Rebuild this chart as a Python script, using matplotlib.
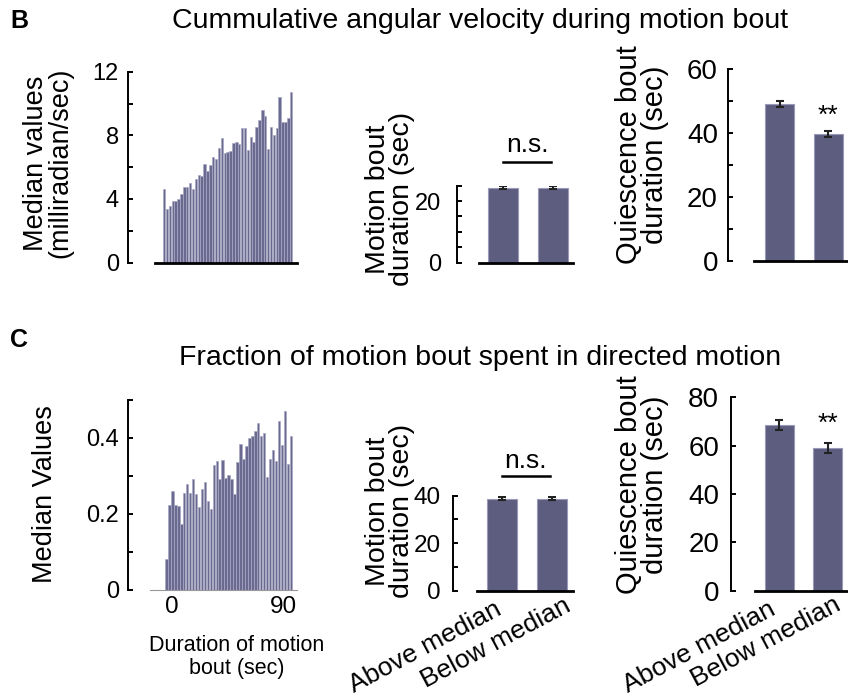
import numpy as np
import matplotlib
matplotlib.use('Agg')
import matplotlib.pyplot as plt

plt.rcParams['font.family'] = ['Liberation Sans', 'DejaVu Sans']

# ---------------- data ----------------
angvel_median = [4.6, 3.38, 3.54, 3.84, 3.84, 4.01, 4.30, 4.73, 4.73, 5.02,
                 4.64, 5.27, 5.49, 5.44, 6.20, 5.74, 6.16, 6.62, 6.54, 7.22,
                 7.85, 6.88, 6.96, 7.00, 7.51, 7.55, 7.47, 8.44, 8.44, 7.09,
                 7.89, 7.55, 8.52, 8.95, 9.62, 9.20, 7.13, 8.52, 8.02, 8.48,
                 10.38, 8.86, 8.82, 9.07, 10.72]
directed_median = [0.082, 0.225, 0.261, 0.225, 0.221, 0.175, 0.256, 0.279, 0.254, 0.293,
                   0.253, 0.218, 0.265, 0.284, 0.235, 0.214, 0.328, 0.339, 0.293, 0.342,
                   0.296, 0.302, 0.293, 0.253, 0.337, 0.384, 0.344, 0.379, 0.400, 0.405,
                   0.419, 0.440, 0.404, 0.412, 0.298, 0.346, 0.368, 0.339, 0.446, 0.382,
                   0.472, 0.332, 0.404]
hist_bin_sec = 2.4
hist_first_sec = -4.5
groups = ['Above median', 'Below median']
B_motion = [24.3, 24.3]
B_motion_err = [0.5, 0.5]
B_quies = [49.2, 39.7]
B_quies_err = [1.0, 1.0]
C_motion = [38.8, 38.8]
C_motion_err = [0.8, 0.8]
C_quies = [68.6, 58.9]
C_quies_err = [2.0, 2.0]

W, H = 848, 700
fig = plt.figure(figsize=(W / 100, H / 100), dpi=100)
PX = 72 / 100  # points per pixel

BAR = '#5d5d7f'
BAR_EDGE = '#9a9ab8'
HIST = '#6a6a90'
HIST_EDGE = '#a8a8c4'


def ax_px(x0, x1, y_top, y_bot):
    return fig.add_axes([x0 / W, 1 - y_bot / H, (x1 - x0) / W, (y_bot - y_top) / H])


def style(ax, spine_x, ylim, major, minor, fs, pad_px, bottom_color='black', bottom_lw=2.0):
    pos = ax.get_position()
    off = pos.x0 * W - spine_x
    for s in ('top', 'right'):
        ax.spines[s].set_visible(False)
    ax.spines['left'].set_position(('outward', off * PX))
    ax.spines['left'].set_linewidth(1.4)
    ax.spines['left'].set_bounds(ylim[0], ylim[1])
    ax.spines['bottom'].set_color(bottom_color)
    ax.spines['bottom'].set_linewidth(bottom_lw)
    ax.set_ylim(*ylim)
    ax.set_yticks(major)
    ax.set_yticks(minor, minor=True)
    ax.tick_params(axis='y', which='both', direction='in', length=4.5 * PX,
                   width=1.4, labelsize=fs, pad=pad_px * PX)
    ax.patch.set_alpha(0)


def fig_text(x, y, s, **kw):
    fig.text(x / W, 1 - y / H, s, **kw)


def group_labels(ax, offsets, fs):
    for i, (lab, (dx, dy)) in enumerate(zip(groups, offsets)):
        ax.annotate(lab, xy=(i, 0), xycoords=('data', 'axes fraction'),
                    xytext=(dx * PX, dy * PX), textcoords='offset points',
                    rotation=28, ha='center', va='center', fontsize=fs,
                    annotation_clip=False)


# ---------------- Panel B ----------------
fig_text(10, 21, 'B', fontsize=18, fontweight='bold', ha='left', va='center')
fig_text(480, 21, 'Cummulative angular velocity during motion bout', fontsize=20.5,
         ha='center', va='center')

# B1 histogram
ax = ax_px(155, 297, 71.7, 262.5)
idx = np.arange(len(angvel_median))
ax.bar(idx, angvel_median, width=0.85, color=HIST, edgecolor=HIST_EDGE, linewidth=0.5)
ax.set_xlim(-3.16, len(angvel_median) + 1.0)
style(ax, 128, (0, 12), [0, 4, 8, 12], [2, 6, 10], 17, 9)
ax.set_yticklabels(['0', '4', '8', '12'])
ax.set_xticks([])
fig_text(48, 163, 'Median values\n(milliradian/sec)', fontsize=19.5, rotation=90,
         ha='center', va='center', multialignment='center', linespacing=0.92)

# B2 motion bout
ax = ax_px(479, 573, 185.7, 262.7)
x = np.arange(len(groups))
ax.bar(x, B_motion, width=0.6, color=BAR, edgecolor=BAR_EDGE, linewidth=0.8)
ax.errorbar(x, B_motion, yerr=B_motion_err, fmt='none', ecolor='#222222',
            elinewidth=1.5, capsize=3, capthick=1.5)
ax.set_xlim(-0.48, 1.4)
style(ax, 457, (0, 25), [0, 20], [5, 10, 15, 25], 17, 16)
ax.set_yticklabels(['0', '20'])
ax.set_xticks([])
ax.plot([0, 0.96], [32.7, 32.7], color='black', lw=1.8, clip_on=False)
ax.text(0.48, 38.3, 'n.s.', fontsize=19, ha='center', va='center', clip_on=False)
fig_text(390, 199, 'Motion bout\nduration (sec)', fontsize=20.5, rotation=90,
         ha='center', va='center', multialignment='center', linespacing=0.92)

# B3 quiescence
ax = ax_px(754, 860, 69.3, 261)
ax.bar(x, B_quies, width=0.6, color=BAR, edgecolor=BAR_EDGE, linewidth=0.8)
ax.errorbar(x, B_quies, yerr=B_quies_err, fmt='none', ecolor='#222222',
            elinewidth=1.5, capsize=3, capthick=1.5)
ax.set_xlim(-0.526, 1.65)
style(ax, 728, (0, 60), [0, 20, 40, 60], [10, 30, 50], 20, 10)
ax.set_yticklabels(['0', '20', '40', '60'])
ax.set_xticks([])
ax.text(1, 45.5, '**', fontsize=19, ha='center', va='center', clip_on=False)
fig_text(642, 155, 'Quiescence bout\nduration (sec)', fontsize=21, rotation=90,
         ha='center', va='center', multialignment='center', linespacing=0.92)

# ---------------- Panel C ----------------
fig_text(10, 340, 'C', fontsize=18, fontweight='bold', ha='left', va='center')
fig_text(480, 358, 'Fraction of motion bout spent in directed motion', fontsize=20.5,
         ha='center', va='center')

# C1 histogram
ax = ax_px(150, 297, 400, 590)
sec = hist_first_sec + hist_bin_sec * np.arange(len(directed_median))
ax.bar(sec, directed_median, width=hist_bin_sec * 0.85, color=HIST,
       edgecolor=HIST_EDGE, linewidth=0.5)
ax.set_xlim(hist_first_sec - hist_bin_sec * 0.5 - (165 - 150) / 1.233,
            hist_first_sec - hist_bin_sec * 0.5 + (297 - 165) / 1.233)
style(ax, 128, (0, 0.5), [0, 0.2, 0.4], [0.1, 0.3, 0.5], 17, 9,
      bottom_color='#999999', bottom_lw=0.8)
ax.set_yticklabels(['0', '0.2', '0.4'])
ax.set_xticks([0, 90])
ax.set_xticklabels(['0', '90'])
ax.tick_params(axis='x', length=0, labelsize=17.5, pad=4)
fig_text(237, 657, 'Duration of motion\nbout (sec)', fontsize=15.5, ha='center',
         va='center', multialignment='center', linespacing=1.15)
fig_text(45, 494, 'Median Values', fontsize=19.5, rotation=90, ha='center', va='center')

# C2 motion bout
ax = ax_px(477, 573, 495.7, 590.7)
ax.bar(x, C_motion, width=0.6, color=BAR, edgecolor=BAR_EDGE, linewidth=0.8)
ax.errorbar(x, C_motion, yerr=C_motion_err, fmt='none', ecolor='#222222',
            elinewidth=1.5, capsize=3, capthick=1.5)
ax.set_xlim(-0.49, 1.43)
style(ax, 453, (0, 40), [0, 20, 40], [10, 30], 17.5, 12)
ax.set_yticklabels(['0', '20', '40'])
ax.set_xticks([])
group_labels(ax, [(-76, -57), (-56, -52)], 19)
ax.plot([0, 0.96], [48.3, 48.3], color='black', lw=1.8, clip_on=False)
ax.text(0.48, 54.8, 'n.s.', fontsize=19, ha='center', va='center', clip_on=False)
fig_text(390, 511, 'Motion bout\nduration (sec)', fontsize=20.5, rotation=90,
         ha='center', va='center', multialignment='center', linespacing=0.92)

# C3 quiescence
ax = ax_px(755, 860, 397.3, 590.7)
ax.bar(x, C_quies, width=0.6, color=BAR, edgecolor=BAR_EDGE, linewidth=0.8)
ax.errorbar(x, C_quies, yerr=C_quies_err, fmt='none', ecolor='#222222',
            elinewidth=1.5, capsize=3, capthick=1.5)
ax.set_xlim(-0.5, 1.66)
style(ax, 731, (0, 80), [0, 20, 40, 60, 80], [], 20, 12)
ax.set_yticklabels(['0', '20', '40', '60', '80'])
ax.set_xticks([])
group_labels(ax, [(-80, -57), (-62, -51)], 19)
ax.text(1, 69.0, '**', fontsize=19, ha='center', va='center', clip_on=False)
fig_text(642, 485, 'Quiescence bout\nduration (sec)', fontsize=21, rotation=90,
         ha='center', va='center', multialignment='center', linespacing=0.92)

fig.savefig('out.png', dpi=100)
